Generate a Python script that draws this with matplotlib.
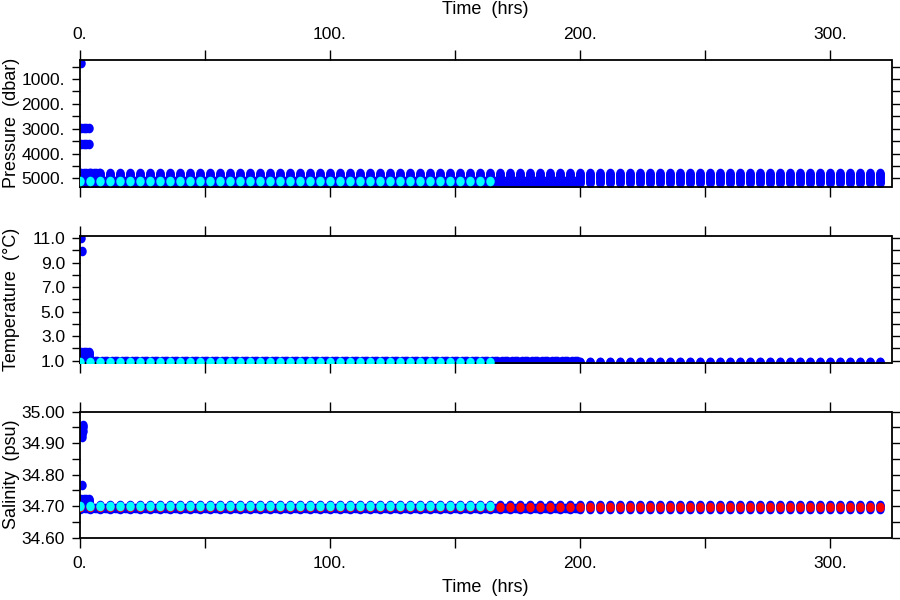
import matplotlib
matplotlib.use('Agg')
import matplotlib.pyplot as plt
import numpy as np
from matplotlib.path import Path
from matplotlib.ticker import FixedLocator, FixedFormatter, NullFormatter

plt.rcParams['font.family'] = ['Liberation Sans', 'DejaVu Sans']

# ---------------- data ----------------
cycle_hours = [0, 4, 8, 12, 16, 20, 24, 28, 32, 36, 40, 44, 48, 52, 56, 60, 64,
               68, 72, 76, 80, 84, 88, 92, 96, 100, 104, 108, 112, 116, 120, 124,
               128, 132, 136, 140, 144, 148, 152, 156, 160, 164, 168, 172, 176,
               180, 184, 188, 192, 196, 200, 204, 208, 212, 216, 220, 224, 228,
               232, 236, 240, 244, 248, 252, 256, 260, 264, 268, 272, 276, 280,
               284, 288, 292, 296, 300, 304, 308, 312, 316, 320]
cyan_last_hour = 164          # cyan series stops here
drift_last_hour = 199         # dense blue drift sampling stops here
drift_offsets = [1.0, 2.0, 3.0]

# blue profile levels sampled at every cycle
col_pressure = [4760, 4800, 4850, 4900, 4950, 5000, 5050, 5100, 5140, 5180]
col_temperature = [0.91, 0.87]
col_salinity = [34.705, 34.700, 34.696, 34.692]

# blue drift values between cycles (first 200 h)
drift_pressure = [5100, 5180]
drift_temperature = [0.99]
drift_salinity = [34.695]

# early descent profiles
early_hours = [0.5, 1.5, 2.5, 3.5]
early_pressure = [2962, 3619, 4760, 4800, 4900, 5000, 5100]
early_temperature = [1.68, 1.6, 1.5, 1.4, 1.3, 1.2, 1.1]
early_salinity = [34.724, 34.721, 34.718, 34.714, 34.71]
early_drift_hours = [4.5, 5.5, 6.5, 7.5]
early_drift_pressure = [4760]

# near-surface outliers
p_out_hours = [0.6]
p_out = [355]
t_out_hours = [0.4, 1.0]
t_out = [11.0, 9.94]
s_out_hours = [1.1, 1.2, 1.1, 1.0, 0.9, 0.9]
s_out = [34.958, 34.950, 34.939, 34.928, 34.920, 34.767]

# cyan and red series values
cyan_pressure = 5097
cyan_temperature = 0.92
cyan_salinity = 34.7006
red_salinity = 34.697

# ---------------- helpers ----------------
BLUE = '#0000FF'
CYAN = '#00FFFF'
RED = '#FF0000'
S = 48

_circ = Path.unit_circle()
DOT = Path(_circ.vertices * np.array([0.88, 1.0]), _circ.codes)

cyc = np.array(cycle_hours, dtype=float)
cyan_t = cyc[cyc <= cyan_last_hour]
drift_t = (cyc[cyc < 200][:, None] + np.array(drift_offsets)[None, :]).ravel()
drift_t = drift_t[drift_t <= drift_last_hour]


def grid(times, levels):
    t = np.repeat(np.asarray(times, float), len(levels))
    v = np.tile(np.asarray(levels, float), len(times))
    return t, v


def dots(ax, t, v, color, z):
    ax.scatter(t, v, s=S, c=color, marker=DOT, linewidths=0, zorder=z)


fig = plt.figure(figsize=(9, 6), dpi=100)
L, R = 80 / 900, 891.5 / 900
pos = [(60, 186.5), (235.7, 362.5), (411.7, 537.7)]
axes = []
for top, bot in pos:
    ax = fig.add_axes([L, 1 - bot / 600, R - L, (bot - top) / 600])
    axes.append(ax)
axP, axT, axS = axes


def blue_panel(ax, cols, drift, early, early_drift, out_t, out_v):
    dots(ax, *grid(cyc, cols), BLUE, 2)
    dots(ax, *grid(drift_t, drift), BLUE, 2)
    dots(ax, *grid(early_hours, early), BLUE, 2)
    if early_drift is not None:
        dots(ax, *grid(early_drift_hours, early_drift), BLUE, 2)
    dots(ax, out_t, out_v, BLUE, 2)


# Pressure
blue_panel(axP, col_pressure, drift_pressure, early_pressure, early_drift_pressure,
           p_out_hours, p_out)
dots(axP, cyan_t, np.full(len(cyan_t), cyan_pressure), CYAN, 4)
axP.set_ylim(5322, 235)

# Temperature
blue_panel(axT, col_temperature, drift_temperature, early_temperature, None,
           t_out_hours, t_out)
dots(axT, cyan_t, np.full(len(cyan_t), cyan_temperature), CYAN, 4)
axT.set_ylim(0.84, 11.2)

# Salinity
blue_panel(axS, col_salinity, drift_salinity, early_salinity, None,
           s_out_hours, s_out)
dots(axS, cyc, np.full(len(cyc), red_salinity), RED, 3)
dots(axS, cyan_t, np.full(len(cyan_t), cyan_salinity), CYAN, 4)
axS.set_ylim(34.6, 35.0)

# ---------------- axes styling ----------------
x_major = [0, 100, 200, 300]
x_labels = ['0.', '100.', '200.', '300.']
x_minor = [50, 150, 250]

y_specs = [
    (axP, [1000, 2000, 3000, 4000, 5000], ['1000.', '2000.', '3000.', '4000.', '5000.'],
     [500, 1500, 2500, 3500, 4500]),
    (axT, [1, 3, 5, 7, 9, 11], ['1.0', '3.0', '5.0', '7.0', '9.0', '11.0'],
     [2, 4, 6, 8, 10]),
    (axS, [34.6, 34.7, 34.8, 34.9, 35.0], ['34.60', '34.70', '34.80', '34.90', '35.00'],
     [34.65, 34.75, 34.85, 34.95]),
]

for i, (ax, yt, yl, ym) in enumerate(y_specs):
    ax.set_xlim(0, 324.7)
    ax.xaxis.set_major_locator(FixedLocator(x_major))
    ax.xaxis.set_minor_locator(FixedLocator(x_minor))
    ax.xaxis.set_major_formatter(FixedFormatter(x_labels))
    ax.xaxis.set_minor_formatter(NullFormatter())
    ax.yaxis.set_major_locator(FixedLocator(yt))
    ax.yaxis.set_major_formatter(FixedFormatter(yl))
    ax.yaxis.set_minor_locator(FixedLocator(ym))
    ax.tick_params(axis='x', which='both', direction='out', length=7.2, width=1.0,
                   top=True, bottom=True, labeltop=(i == 0), labelbottom=(i == 2),
                   labelsize=12.5, pad=6, colors='black')
    ax.tick_params(axis='y', which='both', direction='out', length=5.8, width=1.0,
                   left=True, right=True, labelleft=True, labelright=False,
                   labelsize=12.5, pad=5, colors='black')
    for sp in ax.spines.values():
        sp.set_linewidth(1.3)
        sp.set_color('black')
    ax.set_facecolor('white')

ylabel_x = 12 / 900
fs = 13
fig.text(ylabel_x, 1 - (60 + 186.5) / 2 / 600, 'Pressure  (dbar)', rotation=90,
         ha='center', va='center', fontsize=fs)
fig.text(ylabel_x, 1 - (235.7 + 362.5) / 2 / 600, 'Temperature  (\u00b0C)', rotation=90,
         ha='center', va='center', fontsize=fs)
fig.text(ylabel_x, 1 - (411.7 + 537.7) / 2 / 600, 'Salinity  (psu)', rotation=90,
         ha='center', va='center', fontsize=fs)
fig.text((80 + 891.5) / 2 / 900, 1 - 10 / 600, 'Time  (hrs)', ha='center', va='center',
         fontsize=fs)
fig.text((80 + 891.5) / 2 / 900, 1 - 588 / 600, 'Time  (hrs)', ha='center', va='center',
         fontsize=fs)

fig.savefig('out.png', dpi=100, facecolor='white')
